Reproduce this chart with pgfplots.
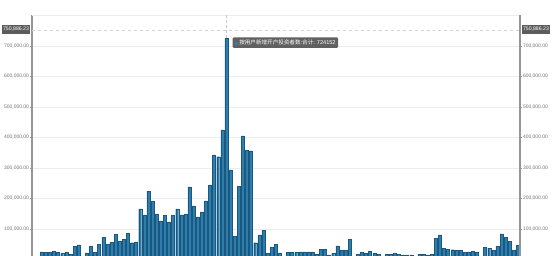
\documentclass[border=0pt]{standalone}
\usepackage{pgfplots}
\pgfplotsset{compat=1.18}
\usepackage{pgfplotstable}
\usepackage{fontspec}
\setmainfont{Liberation Sans}
\newfontfamily\cjk{Noto Sans CJK SC}

\definecolor{barfill}{RGB}{44,126,174}
\definecolor{baredge}{RGB}{28,88,126}
\definecolor{gridc}{RGB}{236,236,236}
\definecolor{axisc}{RGB}{150,150,150}
\definecolor{lblc}{RGB}{115,115,115}
\definecolor{tagc}{RGB}{92,92,92}
\definecolor{tipc}{RGB}{80,80,80}

% new investor accounts per period
\pgfplotstableread{
idx val
1 25000
2 24000
3 24000
4 26000
5 24000
6 20000
7 23000
8 18000
9 44000
10 48000
11 8000
12 22000
13 44000
14 24000
15 50000
16 72000
17 50000
18 57000
19 83000
20 60000
21 66000
22 85000
23 55000
24 58000
25 166000
26 146000
27 223000
28 190000
29 150000
30 127000
31 144000
32 123000
33 144000
34 166000
35 146000
36 150000
37 238000
38 176000
39 140000
40 156000
41 192000
42 245000
43 343000
44 337000
45 425000
46 724152
47 294000
48 77000
49 240000
50 405000
51 359000
52 356000
53 55000
54 81000
55 96000
56 21000
57 41000
58 50000
59 22000
60 8000
61 23000
62 23000
63 23000
64 25000
65 25000
66 25000
67 25000
68 18000
69 33000
70 34000
71 15000
72 20000
73 45000
74 30000
75 30000
76 67000
77 10000
78 18000
79 24000
80 20000
81 26000
82 20000
83 18000
84 10000
85 18000
86 18000
87 20000
88 18000
89 15000
90 15000
91 15000
92 10000
93 18000
94 17000
95 15000
96 16000
97 70000
98 81000
99 36000
100 33000
101 32000
102 31000
103 30000
104 24000
105 25000
106 26000
107 24000
108 8000
109 41000
110 37000
111 31000
112 43000
113 84000
114 73000
115 60000
116 31000
117 47000
}\accounts

\pgfplotsset{
  numfmt/.style={
    scaled y ticks=false,
    /pgf/number format/fixed,
    /pgf/number format/fixed zerofill,
    /pgf/number format/precision=2,
    /pgf/number format/1000 sep={,},
    /pgf/number format/assume math mode=true,
    yticklabel style={font=\fontsize{5}{6}\selectfont, text=lblc, inner sep=0.8bp},
  },
}

\begin{document}
\begin{tikzpicture}
\useasboundingbox (0bp,0bp) rectangle (554bp,256bp);
\fill[white] (0bp,0bp) rectangle (554bp,256bp);

\begin{axis}[
  at={(32bp,0bp)}, anchor=south west,
  scale only axis, width=488bp, height=240.5bp,
  xmin=-1.36, xmax=117.5, ymin=11500, ymax=800000,
  separate axis lines,
  x axis line style={draw=none},
  y axis line style={draw=axisc, line width=1.2bp},
  xtick=\empty,
  ytick={100000,200000,300000,400000,500000,600000,700000},
  extra y ticks={800000},
  extra y tick labels={},
  extra y tick style={major tick length=0pt},
  ytick pos=left, yticklabel pos=left,
  tick align=outside, major tick length=2bp,
  tick style={draw=axisc, line width=0.5bp},
  ymajorgrids, grid style={draw=gridc, line width=0.7bp},
  numfmt,
  ybar, bar width=3bp,
  clip=true,
]
  % hover guide through the peak bar
  \draw[densely dashed, draw=gray!45, line width=0.5bp]
    (axis cs:46,800000) -- (axis cs:46,11500);
  % reference level of the series maximum
  \draw[dashed, draw=gray!35, line width=0.5bp]
    (axis cs:-1.36,750886.23) -- (axis cs:117.5,750886.23);
  \addplot[fill=barfill, draw=baredge, line width=0.35bp] table[x=idx, y=val] {\accounts};
  \coordinate (peak) at (axis cs:46,724152);
  \coordinate (lvlL) at (axis cs:-1.36,750886.23);
  \coordinate (lvlR) at (axis cs:117.5,750886.23);
\end{axis}

\begin{axis}[
  at={(32bp,0bp)}, anchor=south west,
  scale only axis, width=488bp, height=240.5bp,
  xmin=-1.36, xmax=117.5, ymin=11500, ymax=800000,
  hide x axis,
  axis y line*=right,
  y axis line style={draw=axisc, line width=1.2bp},
  ytick={100000,200000,300000,400000,500000,600000,700000},
  tick align=outside, major tick length=2bp,
  tick style={draw=axisc, line width=0.5bp},
  numfmt,
]
  \addplot[draw=none, forget plot] coordinates {(0,20000)};
\end{axis}

% value tags for the maximum level on both axes
\node[fill=tagc, text=white, font=\fontsize{5.2}{6}\selectfont, inner xsep=1.3bp,
      inner ysep=2.4bp, anchor=east] at ([xshift=-1.5bp, yshift=1bp]lvlL) {750,886.23};
\node[fill=tagc, text=white, font=\fontsize{5.2}{6}\selectfont, inner xsep=1.3bp,
      inner ysep=2.4bp, anchor=west] at ([xshift=1.5bp, yshift=1bp]lvlR) {750,886.23};

% tooltip for the peak bar
\node[fill=tipc, fill opacity=0.9, text opacity=1, text=white, rounded corners=1bp,
      font=\fontsize{5.6}{6.5}\selectfont, inner xsep=2.5bp, inner ysep=2.6bp,
      anchor=west] at ([xshift=6bp, yshift=-4bp]peak)
  {\textcolor{barfill}{\rule{3.2bp}{3.2bp}}\,{\cjk 按用户新增开户投资者数:合计:} 724152};
\end{tikzpicture}
\end{document}
